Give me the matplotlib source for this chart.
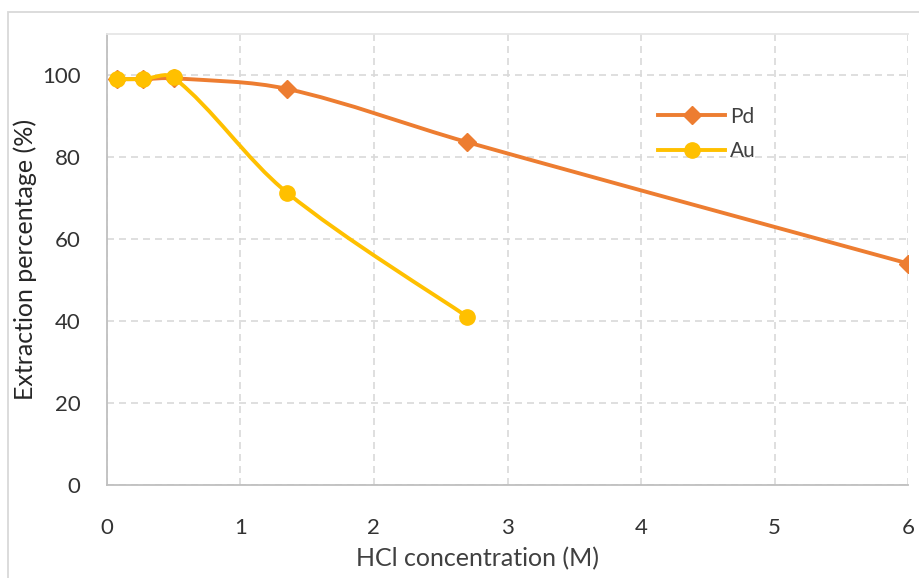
import numpy as np
import matplotlib.pyplot as plt
from matplotlib.path import Path
from matplotlib.patches import PathPatch, Rectangle
from matplotlib.lines import Line2D

plt.rcParams['font.family'] = ['Lato', 'DejaVu Sans']

# data
hcl = [0.08, 0.27, 0.5, 1.35, 2.7, 6.0]
pd_ext = [99.0, 99.0, 99.2, 96.6, 83.6, 54.0]
hcl_au = [0.08, 0.27, 0.5, 1.35, 2.7]
au_ext = [99.0, 99.0, 99.4, 71.3, 41.0]

x_ticks = [0, 1, 2, 3, 4, 5, 6]
y_ticks = [0, 20, 40, 60, 80, 100]

PD_COLOR = '#ED7D31'
AU_COLOR = '#FFC000'
GRID = '#d9d9d9'
TEXT = '#404040'

# rough pixel scale of the plot area, used to weight the smoothing
PX_X = 133.6
PX_Y = 4.1


def smooth_path(xs, ys):
    """Excel-like smoothed line: bezier with chord weighted tangents"""
    pts = np.column_stack([xs, ys]).astype(float)
    scale = np.array([PX_X, PX_Y])
    n = len(pts)

    def seg_len(a, b):
        return np.linalg.norm((pts[b] - pts[a]) * scale)

    verts = [pts[0]]
    codes = [Path.MOVETO]
    for i in range(n - 1):
        p0 = pts[i - 1] if i > 0 else pts[i]
        p1 = pts[i]
        p2 = pts[i + 1]
        p3 = pts[i + 2] if i + 2 < n else pts[i + 1]
        l01 = seg_len(i - 1, i) if i > 0 else seg_len(i, i + 1)
        l12 = seg_len(i, i + 1)
        l23 = seg_len(i + 1, i + 2) if i + 2 < n else seg_len(i, i + 1)
        c1 = p1 + (p2 - p0) * l12 / (l01 + l12) / 3.0
        c2 = p2 - (p3 - p1) * l12 / (l12 + l23) / 3.0
        verts += [c1, c2, p2]
        codes += [Path.CURVE4] * 3
    return Path(verts, codes)


fig = plt.figure(figsize=(9.2, 5.78), dpi=100)
ax = fig.add_axes([0.116, 0.161, 0.8713, 0.7802])

# outer chart border (light grey, partly off the picture)
fig.patches.append(Rectangle((8 / 920, -0.05), 1.0, 1 - 12 / 578 + 0.05,
                             transform=fig.transFigure, fill=False,
                             edgecolor=GRID, linewidth=1.3))

LW = 2.8
series = [(hcl, pd_ext, PD_COLOR, 'D', 9, 3),
          (hcl_au, au_ext, AU_COLOR, 'o', 11, 5)]
for xs, ys, col, mk, ms, z in series:
    ax.add_patch(PathPatch(smooth_path(xs, ys), facecolor='none',
                           edgecolor=col, linewidth=LW, zorder=z,
                           capstyle='round', joinstyle='round'))
    ax.plot(xs, ys, linestyle='none', marker=mk, markersize=ms,
            color=col, zorder=z + 1)

ax.set_xlim(0, 6)
ax.set_ylim(0, 110)
ax.set_xticks(x_ticks)
ax.set_yticks(y_ticks)
ax.tick_params(length=0, labelsize=16, colors='#333333')
ax.tick_params(axis='y', pad=19)
ax.tick_params(axis='x', pad=24)
ax.grid(True, color=GRID, linestyle=(0, (4.2, 3)), linewidth=1.2, zorder=0)
ax.set_axisbelow(True)

for side in ['left', 'bottom']:
    ax.spines[side].set_color('#bfbfbf')
    ax.spines[side].set_linewidth(1.3)
ax.spines['top'].set_color('#e6e6e6')
ax.spines['top'].set_linewidth(1.3)
ax.spines['right'].set_visible(False)

ax.set_xlabel('HCl concentration (M)', fontsize=18, color=TEXT)
ax.xaxis.set_label_coords(0.462, -0.138)
ax.set_ylabel('Extraction percentage (%)', fontsize=18, color='#262626', labelpad=3.5)

handles = [Line2D([], [], color=PD_COLOR, lw=LW, marker='D', markersize=9),
           Line2D([], [], color=AU_COLOR, lw=LW, marker='o', markersize=11)]
ax.legend(handles, ['Pd', 'Au'], loc='upper left', bbox_to_anchor=(0.688, 0.839),
          frameon=False, fontsize=15, handlelength=3.2, labelcolor=TEXT,
          handletextpad=0.25, labelspacing=0.7, borderpad=0, borderaxespad=0)

fig.savefig('out.png', dpi=100)
